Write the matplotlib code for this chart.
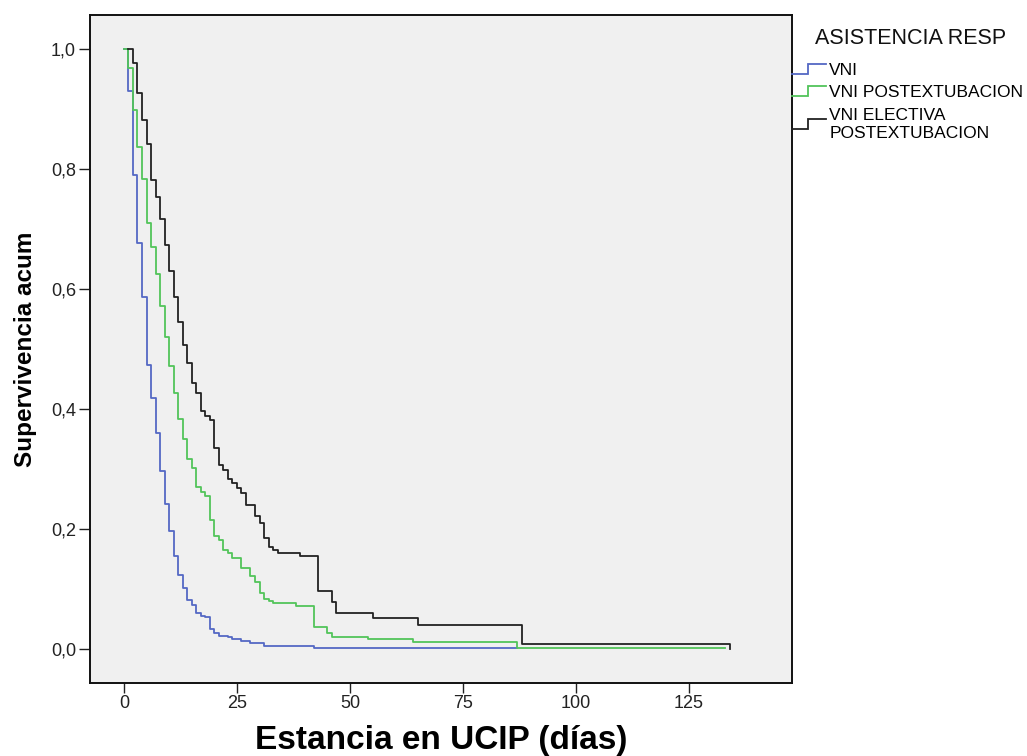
import matplotlib
matplotlib.use("Agg")
import matplotlib.pyplot as plt
from matplotlib.lines import Line2D
from matplotlib.legend_handler import HandlerBase
from matplotlib.ticker import FuncFormatter

plt.rcParams['font.family'] = ['Liberation Sans', 'DejaVu Sans']

# ---- data (days, cumulative survival) ----
vni_t = [0, 1, 2, 3, 4, 5, 6, 7, 8, 9, 10, 11, 12, 13, 14, 15, 16, 17, 18, 19,
         20, 21, 23, 24, 26, 28, 31, 35, 42, 87]
vni_s = [1.0, 0.93, 0.79, 0.677, 0.587, 0.473, 0.419, 0.36, 0.297, 0.242, 0.196,
         0.155, 0.123, 0.102, 0.082, 0.073, 0.06, 0.055, 0.053, 0.033, 0.026,
         0.022, 0.019, 0.016, 0.013, 0.0095, 0.0055, 0.004, 0.002, 0.001]

post_t = [0, 1, 2, 3, 4, 5, 6, 7, 8, 9, 10, 11, 12, 13, 14, 15, 16, 17, 18, 19,
          20, 21, 22, 23, 24, 26, 28, 29, 30, 31, 32, 33, 38, 42, 45, 46, 54, 64,
          87, 133]
post_s = [1.0, 0.968, 0.898, 0.837, 0.783, 0.71, 0.67, 0.625, 0.572, 0.52, 0.472,
          0.426, 0.383, 0.35, 0.316, 0.301, 0.27, 0.262, 0.255, 0.215, 0.188,
          0.182, 0.165, 0.16, 0.151, 0.135, 0.122, 0.112, 0.093, 0.083, 0.079,
          0.076, 0.0717, 0.036, 0.027, 0.0205, 0.0167, 0.011, 0.0015, 0.0015]

elec_t = [1, 2, 3, 4, 5, 6, 7, 8, 9, 10, 11, 12, 13, 14, 15, 16, 17, 18, 19, 20,
          21, 22, 23, 24, 25, 26, 27, 29, 30, 31, 32, 33, 34, 39, 43, 46, 47, 55,
          65, 88, 134]
elec_s = [1.0, 0.977, 0.927, 0.882, 0.842, 0.782, 0.754, 0.717, 0.673, 0.63,
          0.587, 0.545, 0.507, 0.476, 0.443, 0.426, 0.396, 0.389, 0.382, 0.335,
          0.307, 0.299, 0.284, 0.277, 0.268, 0.26, 0.24, 0.222, 0.21, 0.185,
          0.17, 0.165, 0.16, 0.155, 0.0965, 0.078, 0.0605, 0.051, 0.04, 0.0083,
          0.0]

series_labels = ["VNI", "VNI POSTEXTUBACION", "VNI ELECTIVA\nPOSTEXTUBACION"]
series_colors = ["#5468c4", "#52c45a", "#222222"]
x_ticks = [0, 25, 50, 75, 100, 125]
y_ticks = [0.0, 0.2, 0.4, 0.6, 0.8, 1.0]


class StepHandler(HandlerBase):
    def create_artists(self, legend, orig_handle, xdescent, ydescent, width,
                       height, fontsize, trans):
        x0 = -xdescent
        y0 = -ydescent
        xm = x0 + width * 0.47
        yl = y0 + height * 0.0
        yh = y0 + height * 1.0
        line = Line2D([x0, xm, xm, x0 + width], [yl, yl, yh, yh],
                      color=orig_handle.get_color(), lw=orig_handle.get_linewidth(),
                      transform=trans, solid_joinstyle='miter')
        return [line]


fig = plt.figure(figsize=(10.27, 7.56), dpi=100)
fig.patch.set_facecolor('white')
ax = fig.add_axes([90 / 1027, 1 - 683 / 756, (792 - 90) / 1027, (683 - 15) / 756])
ax.set_facecolor('#f0f0f0')

handles = []
for t, s, c in zip([vni_t, post_t, elec_t], [vni_s, post_s, elec_s], series_colors):
    h, = ax.plot(t, s, drawstyle='steps-post', color=c, lw=1.3)
    handles.append(h)

ax.set_xlim(-7.5, 147.8)
ax.set_ylim(-0.057, 1.057)
ax.set_xticks(x_ticks)
ax.set_yticks(y_ticks)
ax.yaxis.set_major_formatter(FuncFormatter(lambda v, p: f"{v:.1f}".replace('.', ',')))
ax.tick_params(axis='both', direction='out', length=7, width=1, labelsize=13,
               colors='#222222')
ax.tick_params(axis='x', pad=2)
ax.tick_params(axis='y', length=8, pad=2)
for sp in ax.spines.values():
    sp.set_linewidth(1.4)
    sp.set_color('#111111')

ax.set_xlabel("Estancia en UCIP (días)", fontsize=24, fontweight='bold', labelpad=9)
ax.set_ylabel("Supervivencia acum", fontsize=17.5, fontweight='bold', labelpad=10)

fig.text(911 / 1027, 1 - 39 / 756, "ASISTENCIA RESP", fontsize=15.5,
         ha='center', va='center', color='#111111')
leg = fig.legend(handles, series_labels, loc='upper left',
                 bbox_to_anchor=(792 / 1027, 1 - 63 / 756),
                 frameon=False, fontsize=12.5, borderpad=0, borderaxespad=0,
                 handlelength=1.95, handleheight=0.55, handletextpad=0.2,
                 labelspacing=0.42,
                 handler_map={Line2D: StepHandler()})
for txt in leg.get_texts():
    txt.set_linespacing(1.3)

fig.savefig("out.png", dpi=100)
